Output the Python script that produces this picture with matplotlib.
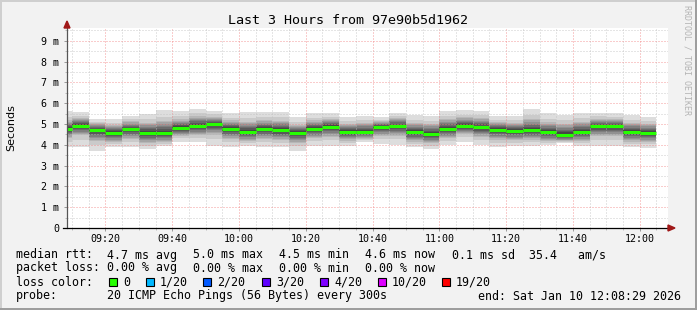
import numpy as np
import matplotlib.pyplot as plt
from matplotlib.patches import Rectangle, Polygon

plt.rcParams['font.family'] = 'DejaVu Sans Mono'

# time axis in minutes after 09:00 (graph runs 09:08:29 .. 12:08:29)
t_start = 8 + 29 / 60
t_end = 188 + 29 / 60
col_end = list(range(10, 186, 5))  # end of each 300s step, 09:10 .. 12:05
tick_labels = ['09:20', '09:40', '10:00', '10:20', '10:40', '11:00', '11:20', '11:40', '12:00']

# rtt per step in ms
rtt_median = [4.78, 4.92, 4.70, 4.57, 4.75, 4.58, 4.55, 4.81, 4.92, 5.00, 4.77, 4.63,
              4.75, 4.70, 4.58, 4.76, 4.87, 4.63, 4.63, 4.86, 4.90, 4.60, 4.52, 4.76,
              4.92, 4.84, 4.73, 4.66, 4.70, 4.60, 4.49, 4.62, 4.90, 4.89, 4.62, 4.58]
rtt_min = [3.88, 3.91, 3.70, 3.88, 3.91, 3.78, 3.94, 4.15, 4.13, 3.94, 3.91, 3.94,
           3.91, 3.88, 3.72, 3.94, 3.94, 3.94, 4.15, 4.04, 3.99, 3.88, 3.80, 3.99,
           4.15, 3.99, 3.88, 3.94, 3.96, 3.99, 4.07, 3.94, 3.94, 3.94, 3.88, 3.85]
rtt_max = [5.63, 5.58, 5.26, 5.22, 5.40, 5.47, 5.67, 5.63, 5.74, 5.63, 5.51, 5.56,
           5.56, 5.56, 5.32, 5.53, 5.53, 5.35, 5.38, 5.35, 5.54, 5.43, 5.40, 5.63,
           5.67, 5.64, 5.38, 5.38, 5.74, 5.51, 5.43, 5.54, 5.54, 5.51, 5.43, 5.35]
rtt_p25 = [4.30, 4.42, 4.15, 4.10, 4.25, 4.05, 4.12, 4.40, 4.42, 4.45, 4.25, 4.15,
           4.25, 4.20, 4.05, 4.28, 4.35, 4.18, 4.28, 4.40, 4.40, 4.12, 4.05, 4.28,
           4.48, 4.35, 4.22, 4.18, 4.22, 4.15, 4.15, 4.15, 4.38, 4.38, 4.12, 4.10]
rtt_p75 = [5.20, 5.30, 5.05, 4.98, 5.15, 5.10, 5.20, 5.25, 5.40, 5.38, 5.20, 5.15,
           5.22, 5.20, 5.00, 5.20, 5.25, 5.05, 5.08, 5.15, 5.30, 5.10, 5.05, 5.28,
           5.35, 5.32, 5.12, 5.08, 5.28, 5.12, 5.05, 5.15, 5.28, 5.25, 5.10, 5.02]

loss_labels = ['0', '1/20', '2/20', '3/20', '4/20', '10/20', '19/20']
loss_colors = ['#26ff00', '#00b8ff', '#0059ff', '#5e00ff', '#7e00ff', '#dd00ff', '#ff0000']

W, H = 697, 310
fig = plt.figure(figsize=(W / 100, H / 100), dpi=100, facecolor='#f2f2f2')

# 3d frame like rrdtool
fig.add_artist(Rectangle((0, 1 - 2 / H), 1, 2 / H, transform=fig.transFigure, color='#cfcfcf', lw=0))
fig.add_artist(Rectangle((0, 0), 2 / W, 1, transform=fig.transFigure, color='#cfcfcf', lw=0))
fig.add_artist(Rectangle((0, 0), 1, 2 / H, transform=fig.transFigure, color='#9e9e9e', lw=0))
fig.add_artist(Rectangle((1 - 2 / W, 0), 2 / W, 1, transform=fig.transFigure, color='#9e9e9e', lw=0))

ax = fig.add_axes([67 / W, 1 - 228 / H, 601 / W, 200 / H])
ax.set_facecolor('white')
ax.set_xlim(t_start, t_end)
ax.set_ylim(0, 9.62)

# smoke: 20 sorted pings per step, outer pairs light, inner pairs dark
ends = np.array(col_end, dtype=float)
lefts = np.maximum(ends - 5, t_start)
widths = ends - lefts
ranks = [1, 2.5, 10.5, 18.5, 20]
pings = np.array([np.interp(np.arange(1, 21), ranks, [lo, q1, md, q3, hi])
                  for lo, q1, md, q3, hi in zip(rtt_min, rtt_p25, rtt_median, rtt_p75, rtt_max)])
for i in range(10):
    shade = int(190 / 10 * (10 - (i + 1))) + 50
    col = '#%02x%02x%02x' % (shade, shade, shade)
    bot = pings[:, i]
    top = pings[:, 19 - i]
    ax.bar(lefts, top - bot, bottom=bot, width=widths, align='edge',
           color=col, linewidth=0, antialiased=False, zorder=1)

ax.hlines(rtt_median, lefts, ends, color='#26ff00', lw=2.2, zorder=4)

# grid
ax.set_axisbelow(False)
ax.set_xticks(range(20, 181, 20))
ax.set_xticklabels(tick_labels)
ax.set_xticks(col_end, minor=True)
ax.set_yticks(range(0, 10))
ax.set_yticklabels(['0'] + ['%d m' % v for v in range(1, 10)])
ax.set_yticks(np.arange(0.5, 9.6, 1.0), minor=True)
ax.grid(which='major', color='#f08080', ls=(0, (1, 2)), lw=0.72, alpha=0.8)
ax.grid(which='minor', color='#c0c0c0', ls=(0, (1, 2)), lw=0.72, alpha=0.8)
ax.tick_params(which='major', length=2.5, width=0.7, color='#999999', labelsize=7.2, pad=2)
ax.tick_params(which='minor', length=1.5, width=0.7, color='#bbbbbb')
ax.tick_params(axis='y', labelsize=7.2, pad=3)
for s in ax.spines.values():
    s.set_visible(False)

# axes with arrows
ax.plot([0, 0], [0, 1.0], transform=ax.transAxes, color='#555555', lw=0.9, clip_on=False, zorder=5)
ax.plot([-4 / 601, 1.0], [0, 0], transform=ax.transAxes, color='black', lw=0.9, clip_on=False, zorder=5)
ax.add_patch(Polygon([[-3 / 601, 1.0], [3 / 601, 1.0], [0, 1 + 7 / 200]], closed=True,
                     transform=ax.transAxes, color='#a01818', clip_on=False, zorder=6))
ax.add_patch(Polygon([[1.0, -3 / 200], [1.0, 3 / 200], [1 + 7 / 601, 0]], closed=True,
                     transform=ax.transAxes, color='#a01818', clip_on=False, zorder=6))

fig.text(348 / W, 1 - 20 / H, 'Last 3 Hours from 97e90b5d1962', ha='center', va='center', size=9.6)
fig.text(11 / W, 1 - 128 / H, 'Seconds', rotation=90, ha='center', va='center', size=8,
         family='DejaVu Sans')
fig.text(687 / W, 1 - 60 / H, 'RRDTOOL / TOBI OETIKER', rotation=270, ha='center', va='center',
         size=6, color='#b4b4b4')

fs = 8.4


def txt(x, y, s):
    fig.text(x / W, 1 - y / H, s, ha='left', va='center', size=fs)


txt(16, 255, 'median rtt:')
txt(107, 255, '4.7 ms avg')
txt(193, 255, '5.0 ms max')
txt(279, 255, '4.5 ms min')
txt(365, 255, '4.6 ms now')
txt(452, 255, '0.1 ms sd  35.4   am/s')

txt(16, 268, 'packet loss:')
txt(107, 268, '0.00 % avg')
txt(193, 268, '0.00 % max')
txt(279, 268, '0.00 % min')
txt(365, 268, '0.00 % now')

txt(16, 282, 'loss color:')
box_x = [109, 146, 203, 262, 320, 378, 442]
for bx, lab, c in zip(box_x, loss_labels, loss_colors):
    fig.add_artist(Rectangle((bx / W, 1 - 286 / H), 8 / W, 8 / H, transform=fig.transFigure,
                             facecolor=c, edgecolor='black', lw=0.8))
    txt(bx + 14, 282, lab)

txt(16, 296, 'probe:')
txt(107, 296, '20 ICMP Echo Pings (56 Bytes) every 300s')
txt(478, 296, 'end: Sat Jan 10 12:08:29 2026')

fig.savefig('out.png', dpi=100, facecolor=fig.get_facecolor())
